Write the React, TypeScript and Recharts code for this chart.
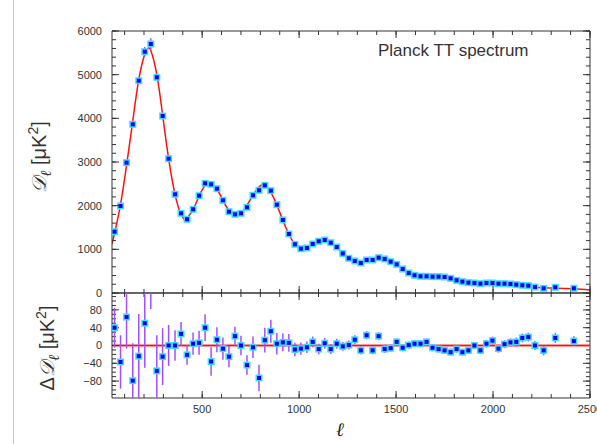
import React from 'react';
import {
  ComposedChart, Line, Scatter, ErrorBar, XAxis, YAxis, ReferenceLine,
} from 'recharts';

// binned multipole centres
const ell = [
  48, 79, 110, 142, 173, 204, 235, 266, 296, 327, 360, 391, 422, 453, 484, 515, 546, 576, 607, 638,
  669, 700, 731, 762, 793, 823, 854, 885, 916, 947, 978, 1009, 1040, 1070, 1101, 1132, 1163, 1194, 1225, 1256,
  1287, 1318, 1348, 1379, 1410, 1441, 1472, 1503, 1534, 1565, 1595, 1626, 1657, 1688, 1719, 1750, 1781, 1812, 1842, 1873,
  1904, 1935, 1966, 1997, 2028, 2059, 2090, 2120, 2151, 2182, 2216, 2261, 2321, 2417,
];
const dl = [
  1404, 1992, 2985, 3862, 4862, 5526, 5702, 4939, 4053, 3076, 2260, 1825, 1688, 1916, 2228, 2512, 2489, 2389, 2122, 1862,
  1802, 1825, 1962, 2237, 2352, 2466, 2343, 2022, 1672, 1351, 1115, 1015, 1030, 1122, 1184, 1214, 1152, 1053, 905, 795,
  733, 687, 756, 756, 809, 779, 718, 656, 550, 458, 405, 382, 382, 374, 374, 366, 336, 290, 260, 237,
  229, 214, 229, 229, 214, 214, 206, 191, 176, 168, 137, 107, 130, 107,
];
const dlErr = [
  40, 45, 50, 60, 70, 110, 130, 70, 50, 40, 35, 30, 25, 25, 25, 25, 25, 25, 25, 25,
  20, 20, 20, 20, 25, 25, 25, 20, 20, 15, 15, 15, 12, 12, 12, 12, 11, 11, 10, 10,
  10, 9, 9, 9, 9, 9, 8, 8, 8, 8, 8, 8, 8, 8, 8, 8, 8, 8, 8, 8,
  8, 8, 9, 9, 9, 9, 9, 10, 10, 10, 10, 11, 11, 11,
];
const resid = [
  40, -37, 64, -79, -24, 50, 150, -57, -25, 0, 0, 26, -21, 4, 6, 40, -36, 13, -7, -25,
  21, 0, -44, -4, -73, 12, 32, 4, 7, 6, -9, -7, -4, 8, -8, 5, -8, 4, -2, 1,
  13, -11, 23, -11, 21, -8, -6, 8, -5, 1, 4, 4, 8, -5, -8, -11, -15, -8, -15, -11,
  0, -11, 4, 11, -7, 3, 7, 8, 17, 19, 0, -11, 17, 10,
];
const residErr = [
  45, 60, 71, 84, 95, 100, 68, 80, 64, 46, 34, 27, 22, 25, 27, 30, 32, 28, 25, 24,
  21, 22, 22, 24, 30, 28, 26, 24, 20, 20, 15, 14, 13, 12, 12, 12, 11, 11, 10, 10,
  10, 9, 9, 9, 9, 9, 8, 8, 8, 8, 8, 8, 8, 8, 8, 8, 8, 8, 8, 8,
  8, 8, 9, 9, 9, 9, 9, 10, 10, 10, 10, 11, 11, 11,
];

// best-fit model curve
const theoryEll = [
  35, 48, 79, 110, 142, 173, 204, 220, 235, 266, 296, 327, 360, 391, 413, 422, 453, 484, 515, 530,
  546, 576, 607, 638, 669, 680, 700, 731, 762, 793, 821, 854, 885, 916, 947, 978, 1009, 1025, 1040, 1070,
  1101, 1132, 1163, 1194, 1225, 1256, 1287, 1318, 1348, 1379, 1410, 1441, 1472, 1503, 1534, 1565, 1595, 1626, 1657, 1688,
  1719, 1750, 1781, 1812, 1842, 1873, 1904, 1935, 1966, 1997, 2028, 2059, 2090, 2120, 2151, 2182, 2216, 2261, 2321, 2417, 2500,
];
const theoryDl = [
  1120, 1365, 2029, 2921, 3940, 4886, 5476, 5603, 5552, 5000, 4078, 3076, 2260, 1800, 1670, 1709, 1912, 2222, 2472, 2535,
  2525, 2376, 2129, 1887, 1781, 1770, 1825, 2006, 2241, 2425, 2489, 2311, 2018, 1665, 1345, 1125, 1022, 1010, 1034, 1114,
  1192, 1209, 1160, 1049, 900, 786, 720, 698, 733, 767, 788, 787, 724, 648, 555, 457, 401, 378, 374, 379,
  382, 377, 351, 298, 275, 248, 229, 225, 225, 218, 221, 211, 199, 183, 159, 149, 137, 118, 110, 95, 70,
];

const xTickLabels = [500, 1000, 1500, 2000, 2500];
const dlTicks = [0, 1000, 2000, 3000, 4000, 5000, 6000];
const residTicks = [-80, -40, 0, 40, 80];

// minor tick positions (axis decoration only)
const minorX = [...Array.from({ length: 24 }, (_, i) => (i + 1) * 100), 2500];
const minorDl = Array.from({ length: 31 }, (_, i) => i * 200);
const minorResid = Array.from({ length: 23 }, (_, i) => -110 + i * 10);

const points = ell.map((l, i) => ({ l, d: dl[i], err: dlErr[i] }));
const residPoints = ell.map((l, i) => ({ l, d: resid[i], err: residErr[i] }));
const theory = theoryEll.map((l, i) => ({ l, d: theoryDl[i] }));

const W = 597;
const H = 444;
const LEFT = 112;
const RIGHT = 590;
const TOP = 31;
const MID = 293;
const BOTTOM = 398;
const THIN = 0.01; // axes need a non-zero size to be drawn
const ELL_DOMAIN: [number, number] = [35, 2500];
const DL_DOMAIN: [number, number] = [0, 6000];
const RES_DOMAIN: [number, number] = [-118, 118];
const AXIS = '#333';
const RED = '#ff1010';
const PURPLE = '#a64dff';
const FONT = 'Liberation Sans, Arial, sans-serif';
const TICK = 4; // minor tick length, drawn inward by the axis itself
const XM = 7; // gap between axis and labels
const YM = 10;

type Side = 'bottom' | 'top' | 'left' | 'right';

// longer tick on majors, label on majors when asked
function makeTick(side: Side, m: number, majors: number[], withLabel: boolean, fmt: (v: number) => string = String) {
  return (props: any) => {
    const x = Number(props.x);
    const y = Number(props.y);
    const v = props.payload.value;
    const major = majors.includes(v);
    const len = 7;
    let seg: [number, number, number, number];
    if (side === 'bottom') seg = [x, y - m, x, y - m - len];
    else if (side === 'top') seg = [x, y + m, x, y + m + len];
    else if (side === 'left') seg = [x + m, y, x + m + len, y];
    else seg = [x - m, y, x - m - len, y];
    return (
      <g>
        {major && <line x1={seg[0]} y1={seg[1]} x2={seg[2]} y2={seg[3]} stroke={AXIS} strokeWidth={1} />}
        {withLabel && major && (
          <text x={x} y={y} dy={side === 'bottom' ? '0.71em' : '0.355em'}
            textAnchor={side === 'bottom' ? 'middle' : 'end'} fontSize={11} fill="#333" fontFamily={FONT}>
            {fmt(v)}
          </text>
        )}
      </g>
    );
  };
}

const line = { stroke: AXIS, strokeWidth: 1 };

function axesLB(yDomain: [number, number], yTicks: number[], yMajors: number[], xLabels: boolean, fmt?: (v: number) => string) {
  return [
    <XAxis key="x" xAxisId="main" dataKey="l" type="number" domain={ELL_DOMAIN} allowDataOverflow height={THIN}
      ticks={minorX} interval={0} tick={makeTick('bottom', XM, xTickLabels, xLabels)}
      tickLine={line} tickSize={-TICK} tickMargin={XM + TICK} axisLine={line} />,
    <YAxis key="y" yAxisId="main" type="number" domain={yDomain} allowDataOverflow width={THIN}
      ticks={yTicks} interval={0} tick={makeTick('left', YM, yMajors, true, fmt)}
      tickLine={line} tickSize={-TICK} tickMargin={YM + TICK} axisLine={line} />,
  ];
}

function axesTR(yDomain: [number, number], yTicks: number[], yMajors: number[]) {
  return [
    <XAxis key="x" xAxisId="main" orientation="top" dataKey="l" type="number" domain={ELL_DOMAIN} allowDataOverflow height={THIN}
      ticks={minorX} interval={0} tick={makeTick('top', XM, xTickLabels, false)}
      tickLine={line} tickSize={-TICK} tickMargin={XM + TICK} axisLine={line} />,
    <YAxis key="y" yAxisId="main" orientation="right" type="number" domain={yDomain} allowDataOverflow width={THIN}
      ticks={yTicks} interval={0} tick={makeTick('right', YM, yMajors, false)}
      tickLine={line} tickSize={-TICK} tickMargin={YM + TICK} axisLine={line} />,
  ];
}

const minus = (v: number) => (v < 0 ? `\u2212${-v}` : `${v}`);

const abs = (extra: React.CSSProperties): React.CSSProperties => ({ position: 'absolute', ...extra });

const topMargin = { top: TOP, right: W - RIGHT, bottom: H - MID, left: LEFT };
const resMargin = { top: MID, right: W - RIGHT, bottom: H - BOTTOM, left: LEFT };

const yTitle = (prefix: string) => (
  <>
    {prefix}
    <span style={{ fontFamily: 'DejaVu Serif', fontStyle: 'italic' }}>𝒟</span>
    <sub style={{ fontFamily: 'DejaVu Serif', fontStyle: 'italic', fontSize: 15 }}>ℓ</sub>
    {' '}[μK<sup style={{ fontSize: 14 }}>2</sup>]
  </>
);

export default function App() {
  return (
    <div style={abs({ left: 0, top: 0, width: W, height: H, background: '#fff', fontFamily: FONT })}>
      <div style={abs({ left: 13, top: 0, width: 1, height: H, background: '#c4c4c4' })} />

      {/* top panel: right/top frame with the model curve */}
      <div style={abs({ left: 0, top: 0 })}>
        <ComposedChart width={W} height={H} margin={topMargin}>
          {axesTR(DL_DOMAIN, minorDl, dlTicks)}
          <Line xAxisId="main" yAxisId="main" data={theory} dataKey="d" type="natural"
            stroke={RED} strokeWidth={1.5} dot={false} isAnimationActive={false} />
        </ComposedChart>
      </div>
      {/* top panel: left/bottom frame with the binned points */}
      <div style={abs({ left: 0, top: 0 })}>
        <ComposedChart width={W} height={H} margin={topMargin}>
          {axesLB(DL_DOMAIN, minorDl, dlTicks, false)}
          <Scatter xAxisId="main" yAxisId="main" data={points} dataKey="d" isAnimationActive={false}
            shape={(p: any) => <Square {...p} />}>
            <ErrorBar dataKey="err" direction="y" width={0} stroke={PURPLE} strokeWidth={1.5} />
          </Scatter>
        </ComposedChart>
      </div>

      {/* residual panel frames */}
      <div style={abs({ left: 0, top: 0 })}>
        <ComposedChart width={W} height={H} margin={resMargin}>
          {axesTR(RES_DOMAIN, minorResid, residTicks)}
          <ReferenceLine xAxisId="main" yAxisId="main" y={0} stroke={RED} strokeWidth={1.5} />
        </ComposedChart>
      </div>
      <div style={abs({ left: 0, top: 0 })}>
        <ComposedChart width={W} height={H} margin={resMargin}>
          {axesLB(RES_DOMAIN, minorResid, residTicks, true, minus)}
          <ReferenceLine xAxisId="main" yAxisId="main" y={0} stroke={RED} strokeWidth={1.5} />
        </ComposedChart>
      </div>

      {/* residual points, clipped to the panel */}
      <div style={abs({ left: LEFT, top: MID, width: RIGHT - LEFT, height: BOTTOM - MID, overflow: 'hidden' })}>
        <ComposedChart width={RIGHT - LEFT} height={BOTTOM - MID} margin={{ top: 0, right: 0, bottom: 0, left: 0 }}>
          <XAxis xAxisId="main" dataKey="l" type="number" domain={ELL_DOMAIN} allowDataOverflow hide />
          <YAxis yAxisId="main" type="number" domain={RES_DOMAIN} allowDataOverflow hide />
          <Scatter xAxisId="main" yAxisId="main" data={residPoints} dataKey="d" isAnimationActive={false}
            shape={(p: any) => <Square {...p} />}>
            <ErrorBar dataKey="err" direction="y" width={0} stroke={PURPLE} strokeWidth={1.5} />
          </Scatter>
        </ComposedChart>
      </div>

      <div style={abs({ left: 378, top: 41, fontSize: 17, color: '#333', whiteSpace: 'nowrap', lineHeight: 1.2 })}>Planck TT spectrum</div>

      <div style={abs({ left: 40, top: 157, transform: 'translate(-50%, -50%) rotate(-90deg)', fontSize: 20, color: '#333', whiteSpace: 'nowrap', lineHeight: 1.2 })}>
        {yTitle('')}
      </div>
      <div style={abs({ left: 48, top: 348, transform: 'translate(-50%, -50%) rotate(-90deg)', fontSize: 20, color: '#333', whiteSpace: 'nowrap', lineHeight: 1.2 })}>
        {yTitle('Δ')}
      </div>
      <div style={abs({ left: 340, top: 420, transform: 'translateX(-50%)', fontSize: 19, lineHeight: 1, fontFamily: 'DejaVu Serif', fontStyle: 'italic', color: '#222' })}>ℓ</div>
    </div>
  );
}

function Square(props: any) {
  const { cx, cy } = props;
  if (cx == null || cy == null) return <g />;
  return (
    <g>
      <rect x={cx - 3.5} y={cy - 3.5} width={7} height={7} fill="#3fdcff" />
      <rect x={cx - 2} y={cy - 2} width={4} height={4} fill="#0000f0" />
    </g>
  );
}
